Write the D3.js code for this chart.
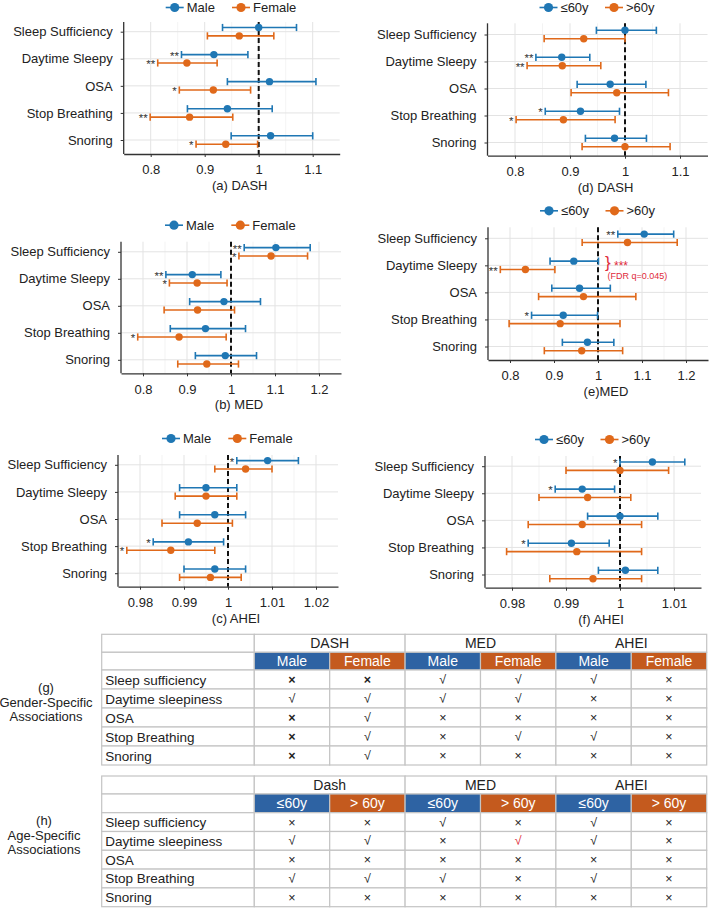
<!DOCTYPE html>
<html>
<head>
<meta charset="utf-8">
<script src="https://cdn.jsdelivr.net/npm/d3@7"></script>
<style>
body { margin: 0; background: #fff; }
svg { display: block; }
text { font-family: "Liberation Sans", Arial, sans-serif; }
</style>
</head>
<body>
<script>
// canvas
var w = 709;
var h = 911;
var blue = "#1f77b4";
var orange = "#e0691a";
var red = "#e02a3a";

// forest plot data: each row is [estimate, lower CI, upper CI, stars]
var outcomes = ["Sleep Sufficiency", "Daytime Sleepy", "OSA", "Stop Breathing", "Snoring"];

var dashMale   = [[1.000, 0.933, 1.070, ""], [0.917, 0.857, 0.980, "**"], [1.020, 0.942, 1.106, ""], [0.942, 0.868, 1.025, ""], [1.022, 0.949, 1.100, ""]];
var dashFemale = [[0.964, 0.905, 1.028, ""], [0.867, 0.813, 0.923, "**"], [0.916, 0.853, 0.985, "*"], [0.872, 0.799, 0.952, "**"], [0.939, 0.884, 0.998, "*"]];
var medMale    = [[1.102, 1.030, 1.180, "**"], [0.912, 0.852, 0.977, "**"], [0.984, 0.906, 1.067, ""], [0.942, 0.862, 1.033, ""], [0.987, 0.919, 1.058, ""]];
var medFemale  = [[1.091, 1.018, 1.174, "*"], [0.923, 0.860, 0.991, "*"], [0.924, 0.848, 1.008, ""], [0.882, 0.788, 0.989, "*"], [0.945, 0.879, 1.017, ""]];
var aheiMale   = [[1.009, 1.002, 1.016, "*"], [0.995, 0.989, 1.002, ""], [0.997, 0.989, 1.004, ""], [0.991, 0.983, 0.999, "*"], [0.997, 0.990, 1.004, ""]];
var aheiFemale = [[1.004, 0.997, 1.010, ""], [0.995, 0.988, 1.002, ""], [0.993, 0.985, 1.001, ""], [0.987, 0.977, 0.997, "*"], [0.996, 0.989, 1.003, ""]];

var dashYoung  = [[1.000, 0.948, 1.057, ""], [0.885, 0.838, 0.936, "**"], [0.973, 0.913, 1.038, ""], [0.919, 0.855, 0.990, "*"], [0.981, 0.928, 1.039, ""]];
var dashOld    = [[0.925, 0.853, 1.000, ""], [0.886, 0.822, 0.956, "**"], [0.985, 0.902, 1.079, ""], [0.888, 0.802, 0.982, "*"], [1.000, 0.922, 1.082, ""]];
var medYoung   = [[1.105, 1.045, 1.172, "**"], [0.945, 0.891, 1.001, ""], [0.958, 0.895, 1.028, ""], [0.921, 0.849, 0.999, "*"], [0.976, 0.919, 1.036, ""]];
var medOld     = [[1.067, 0.964, 1.180, ""], [0.835, 0.778, 0.902, "**"], [0.967, 0.865, 1.086, ""], [0.914, 0.798, 1.050, ""], [0.963, 0.878, 1.056, ""]];
var aheiYoung  = [[1.006, 1.000, 1.012, "*"], [0.993, 0.988, 0.999, "*"], [1.000, 0.994, 1.007, ""], [0.991, 0.983, 0.998, "*"], [1.001, 0.996, 1.007, ""]];
var aheiOld    = [[1.000, 0.990, 1.009, ""], [0.994, 0.985, 1.002, ""], [0.993, 0.983, 1.004, ""], [0.992, 0.979, 1.004, ""], [0.995, 0.987, 1.004, ""]];

var genderKeys = ["Male", "Female"];
var ageKeys = ["\u226460y", ">60y"];

var dashTicks = [0.8, 0.9, 1, 1.1];
var medTicks = [0.8, 0.9, 1, 1.1, 1.2];
var aheiTicks = [0.98, 0.99, 1, 1.01, 1.02];
var aheiAgeTicks = [0.98, 0.99, 1, 1.01];

// summary tables
var tableRows = ["Sleep sufficiency", "Daytime sleepiness", "OSA", "Stop Breathing", "Snoring"];
var genderHeads = ["DASH", "MED", "AHEI"];
var genderSubs = ["Male", "Female"];
var genderMarks = [
  ["×", "×", "√", "√", "√", "×"],
  ["√", "√", "√", "√", "×", "×"],
  ["×", "√", "×", "×", "×", "×"],
  ["×", "√", "×", "√", "√", "×"],
  ["×", "√", "×", "×", "×", "×"]
];
var ageHeads = ["Dash", "MED", "AHEI"];
var ageSubs = ["\u226460y", "> 60y"];
var ageMarks = [
  ["×", "×", "√", "×", "√", "×"],
  ["√", "√", "×", "√", "√", "×"],
  ["×", "×", "×", "×", "×", "×"],
  ["√", "√", "√", "×", "√", "×"],
  ["×", "×", "×", "×", "×", "×"]
];
var redCell = [1, 3]; // row, column of the red tick

// panel layout magic numbers
var panels = [
  {title: "(a) DASH", s: [dashMale, dashFemale], keys: genderKeys, x0: 123.7, x1: 339.7, top: 22, bottom: 154, c0: 31.7, c4: 140, domain: [0.75, 1.15], ticks: dashTicks},
  {title: "(b) MED", s: [medMale, medFemale], keys: genderKeys, x0: 121, x1: 341, top: 241.7, bottom: 373.3, c0: 251.8, c4: 359.8, domain: [0.75, 1.25], ticks: medTicks},
  {title: "(c) AHEI", s: [aheiMale, aheiFemale], keys: genderKeys, x0: 118, x1: 338, top: 455, bottom: 586.7, c0: 464.8, c4: 573.2, domain: [0.975, 1.025], ticks: aheiTicks},
  {title: "(d) DASH", s: [dashYoung, dashOld], keys: ageKeys, x0: 487.5, x1: 707.5, top: 23.3, bottom: 155.7, c0: 34.5, c4: 142.5, domain: [0.75, 1.15], ticks: dashTicks},
  {title: "(e)MED", s: [medYoung, medOld], keys: ageKeys, x0: 488, x1: 708, top: 227.3, bottom: 360, c0: 238.3, c4: 346.5, domain: [0.75, 1.25], ticks: medTicks, note: true},
  {title: "(f) AHEI", s: [aheiYoung, aheiOld], keys: ageKeys, x0: 485, x1: 701, top: 456, bottom: 587.7, c0: 466.2, c4: 574.5, domain: [0.975, 1.015], ticks: aheiAgeTicks}
];

var svg = d3.select("body").append("svg")
  .attr("width", w)
  .attr("height", h);

var fmt = function(d) { return String(+d.toFixed(3)); };

panels.forEach(function(p) {
  var x = d3.scaleLinear().domain(p.domain).range([p.x0, p.x1]);
  var y = d3.scalePoint().domain(outcomes).range([p.c0, p.c4]);
  var g = svg.append("g");
  var mid = (p.x0 + p.x1) / 2;

  // minor gridlines halfway between ticks
  var minor = [];
  for (var i = 1; i < p.ticks.length; i++) minor.push((p.ticks[i - 1] + p.ticks[i]) / 2);

  g.selectAll("line.minor").data(minor).enter().append("line")
    .attr("x1", x).attr("x2", x).attr("y1", p.top).attr("y2", p.bottom)
    .attr("stroke", "#f0f0f0").attr("stroke-width", 0.8);
  g.selectAll("line.major").data(p.ticks).enter().append("line")
    .attr("x1", x).attr("x2", x).attr("y1", p.top).attr("y2", p.bottom)
    .attr("stroke", "#e3e3e3").attr("stroke-width", 1);
  g.selectAll("line.hgrid").data(outcomes).enter().append("line")
    .attr("x1", p.x0).attr("x2", p.x1).attr("y1", y).attr("y2", y)
    .attr("stroke", "#e3e3e3").attr("stroke-width", 1);

  // reference line at 1
  g.append("line")
    .attr("x1", x(1)).attr("x2", x(1)).attr("y1", p.top).attr("y2", p.bottom)
    .attr("stroke", "#111").attr("stroke-width", 2).attr("stroke-dasharray", "5,3");

  p.s.forEach(function(series, si) {
    var col = si ? orange : blue;
    var off = si ? 4.2 : -4.2;
    var row = g.selectAll("g.s" + si).data(series).enter().append("g")
      .attr("transform", function(d, i) { return "translate(0," + (y(outcomes[i]) + off) + ")"; });
    row.append("line")
      .attr("x1", function(d) { return x(d[1]); })
      .attr("x2", function(d) { return x(d[2]); })
      .attr("stroke", col).attr("stroke-width", 1.6);
    row.append("line")
      .attr("x1", function(d) { return x(d[1]); }).attr("x2", function(d) { return x(d[1]); })
      .attr("y1", -3.6).attr("y2", 3.6)
      .attr("stroke", col).attr("stroke-width", 1.6);
    row.append("line")
      .attr("x1", function(d) { return x(d[2]); }).attr("x2", function(d) { return x(d[2]); })
      .attr("y1", -3.6).attr("y2", 3.6)
      .attr("stroke", col).attr("stroke-width", 1.6);
    row.append("circle")
      .attr("cx", function(d) { return x(d[0]); })
      .attr("r", 3.7)
      .attr("fill", col);
    row.append("text")
      .attr("x", function(d) { return x(d[1]) - 2.5; })
      .attr("y", 5)
      .attr("text-anchor", "end")
      .attr("font-size", 11.5)
      .attr("fill", "#333")
      .text(function(d) { return d[3]; });
  });

  // axes
  var xa = g.append("g")
    .attr("transform", "translate(0," + p.bottom + ")")
    .call(d3.axisBottom(x).tickValues(p.ticks).tickFormat(fmt).tickSize(3).tickSizeOuter(0).tickPadding(8));
  xa.select(".domain").attr("stroke", "#333").attr("stroke-width", 1.3);
  xa.selectAll(".tick line").attr("stroke", "#333");
  xa.selectAll("text").attr("font-size", 13).attr("fill", "#222");

  var ya = g.append("g")
    .attr("transform", "translate(" + p.x0 + ",0)")
    .call(d3.axisLeft(y).tickSize(3).tickPadding(8));
  ya.select(".domain").remove();
  ya.selectAll(".tick line").attr("stroke", "#333");
  ya.selectAll("text").attr("font-size", 13).attr("fill", "#222");
  g.append("line")
    .attr("x1", p.x0).attr("x2", p.x0).attr("y1", p.top).attr("y2", p.bottom)
    .attr("stroke", "#333").attr("stroke-width", 1.3);

  // title
  g.append("text")
    .attr("x", mid + 8).attr("y", p.bottom + 36)
    .attr("text-anchor", "middle")
    .attr("font-size", 13).attr("fill", "#222")
    .text(p.title);

  // legend
  var offs = p.keys === genderKeys ? [-57, 9.3] : [-49, 16.5];
  var ly = Math.max(p.top - 16.5, 7.5);
  var lg = g.selectAll("g.legend").data(p.keys).enter().append("g")
    .attr("transform", function(d, i) { return "translate(" + (mid + offs[i]) + "," + ly + ")"; });
  lg.append("line").attr("x1", -9).attr("x2", 9)
    .attr("stroke", function(d, i) { return i ? orange : blue; }).attr("stroke-width", 1.6);
  lg.append("circle").attr("r", 4.6)
    .attr("fill", function(d, i) { return i ? orange : blue; });
  lg.append("text").attr("x", 12).attr("y", 4.6)
    .attr("font-size", 13).attr("fill", "#222")
    .text(function(d) { return d; });

  // FDR annotation on panel (e)
  if (p.note) {
    var yd = y(outcomes[1]);
    var bx = x(1) + 7;
    g.append("text").attr("x", bx).attr("y", yd + 3)
      .attr("font-size", 17).attr("fill", red).text("}");
    g.append("text").attr("x", bx + 9).attr("y", yd + 4.5)
      .attr("font-size", 12).attr("fill", red).text("***");
    g.append("text").attr("x", bx + 2.5).attr("y", yd + 14)
      .attr("font-size", 9).attr("fill", red).text("(FDR q=0.045)");
  }
});

// tables
var tables = [
  {heads: genderHeads, subs: genderSubs, marks: genderMarks, top: 634.3, h1: 652.3, h2: 670, bottom: 765, side: ["(g)", "Gender-Specific", "Associations"], sideX: 46, sideY: 687.3, bold: true},
  {heads: ageHeads, subs: ageSubs, marks: ageMarks, top: 776, h1: 794, h2: 812.7, bottom: 906.7, side: ["(h)", "Age-Specific", "Associations"], sideX: 44, sideY: 820.3, bold: false}
];

var tabLeft = 101.7;
var tabLabelRight = 254.3;
var tabRight = 706.7;
var gridColor = "#c4c4c4";
var headBlue = "#2e63a3";
var headOrange = "#c45a1e";

tables.forEach(function(t, ti) {
  var g = svg.append("g");
  var cx = d3.scaleBand().domain(d3.range(6)).range([tabLabelRight, tabRight]);
  var hx = d3.scaleBand().domain(t.heads).range([tabLabelRight, tabRight]);
  var ry = d3.scaleBand().domain(tableRows).range([t.h2, t.bottom]);

  // label column cells
  g.append("rect").attr("x", tabLeft).attr("y", t.top).attr("width", tabLabelRight - tabLeft).attr("height", t.h1 - t.top)
    .attr("fill", "#fff").attr("stroke", gridColor).attr("stroke-width", 1.2);
  g.append("rect").attr("x", tabLeft).attr("y", t.h1).attr("width", tabLabelRight - tabLeft).attr("height", t.h2 - t.h1)
    .attr("fill", "#fff").attr("stroke", gridColor).attr("stroke-width", 1.2);

  // top headers
  var hd = g.selectAll("g.head").data(t.heads).enter().append("g");
  hd.append("rect").attr("x", hx).attr("y", t.top).attr("width", hx.bandwidth()).attr("height", t.h1 - t.top)
    .attr("fill", "#fff").attr("stroke", gridColor).attr("stroke-width", 1.2);
  hd.append("text").attr("x", function(d) { return hx(d) + hx.bandwidth() / 2; })
    .attr("y", (t.top + t.h1) / 2 + 5)
    .attr("text-anchor", "middle").attr("font-size", 14).attr("fill", "#222")
    .text(function(d) { return d; });

  // coloured sub headers
  var sb = g.selectAll("g.sub").data(d3.range(6)).enter().append("g");
  sb.append("rect").attr("x", cx).attr("y", t.h1).attr("width", cx.bandwidth()).attr("height", t.h2 - t.h1)
    .attr("fill", function(d) { return d % 2 ? headOrange : headBlue; })
    .attr("stroke", gridColor).attr("stroke-width", 1.2);
  sb.append("text").attr("x", function(d) { return cx(d) + cx.bandwidth() / 2; })
    .attr("y", (t.h1 + t.h2) / 2 + 5)
    .attr("text-anchor", "middle").attr("font-size", 14).attr("fill", "#fff")
    .text(function(d) { return t.subs[d % 2]; });

  // body rows
  var rw = g.selectAll("g.row").data(tableRows).enter().append("g")
    .attr("transform", function(d) { return "translate(0," + ry(d) + ")"; });
  rw.append("rect").attr("x", tabLeft).attr("width", tabLabelRight - tabLeft).attr("height", ry.bandwidth())
    .attr("fill", "#fff").attr("stroke", gridColor).attr("stroke-width", 1.2);
  rw.append("text").attr("x", tabLeft + 3.5).attr("y", ry.bandwidth() / 2 + 5)
    .attr("font-size", 13.5).attr("fill", "#222")
    .text(function(d) { return d; });
  rw.each(function(rowName, ri) {
    var cells = d3.select(this).selectAll("g.cell").data(t.marks[ri]).enter().append("g");
    cells.append("rect").attr("x", function(d, ci) { return cx(ci); }).attr("width", cx.bandwidth()).attr("height", ry.bandwidth())
      .attr("fill", "#fff").attr("stroke", gridColor).attr("stroke-width", 1.2);
    cells.append("text")
      .attr("x", function(d, ci) { return cx(ci) + cx.bandwidth() / 2; })
      .attr("y", ry.bandwidth() / 2 + 4.5)
      .attr("text-anchor", "middle").attr("font-size", 12.5)
      .attr("font-weight", function(d, ci) { return t.bold && ci < 2 && d === "×" ? "bold" : "normal"; })
      .attr("fill", function(d, ci) { return ti === 1 && ri === redCell[0] && ci === redCell[1] ? red : "#222"; })
      .text(function(d) { return d; });
  });

  // side label
  g.selectAll("text.side").data(t.side).enter().append("text")
    .attr("x", t.sideX)
    .attr("y", function(d, i) { return t.sideY + i * 14.8 + 4.5; })
    .attr("text-anchor", "middle").attr("font-size", 13).attr("fill", "#222")
    .text(function(d) { return d; });
});
</script>
</body>
</html>
